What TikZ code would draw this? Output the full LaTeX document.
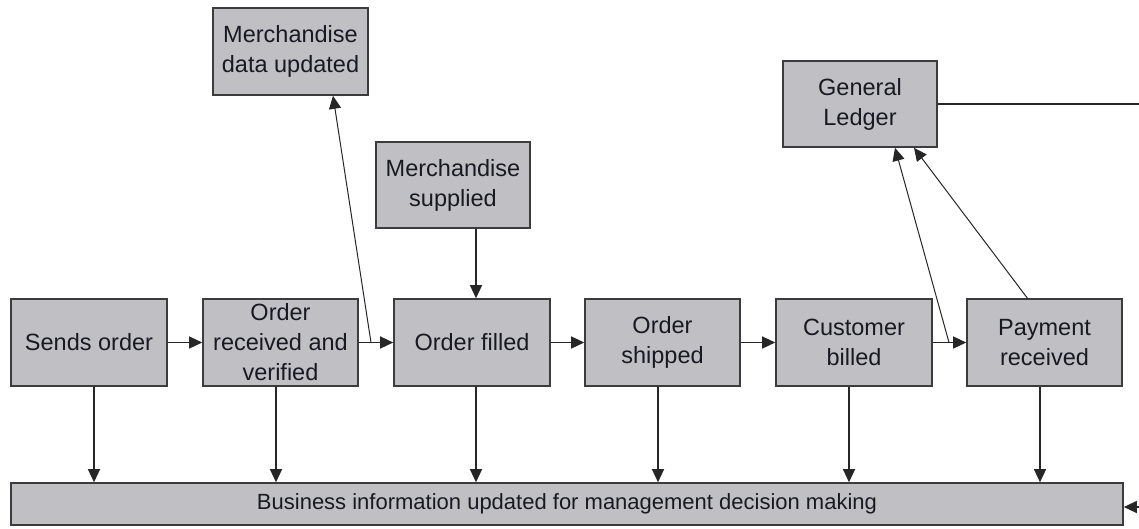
\documentclass[tikz,border=0pt]{standalone}
\usepackage{fontspec}
\setmainfont{Liberation Sans}
\usetikzlibrary{arrows.meta}
\definecolor{boxfill}{RGB}{192,192,196}
\definecolor{boxline}{RGB}{60,60,60}
\definecolor{txt}{RGB}{25,25,35}
\tikzset{
  procbox/.style={draw=boxline, line width=1.6pt, fill=boxfill, align=center,
    minimum width=155pt, minimum height=87pt, inner sep=0pt, text=txt,
    font=\fontsize{23.5pt}{30pt}\selectfont},
  conn/.style={draw=black!85, line width=1.3pt, -{Triangle[length=13pt,width=12pt]}},
  thin/.style={draw=black!85, line width=1pt, -{Triangle[length=13pt,width=12pt]}},
}
\begin{document}
\begin{tikzpicture}[x=1pt,y=-1pt]
\useasboundingbox (0,0) rectangle (1139,528);
% top boxes
\node[procbox] (md) at (290.5,51.5) {Merchandise\\data updated};
\node[procbox, minimum width=154pt, minimum height=86pt] (gl) at (860,104) {General\\Ledger};
\node[procbox, minimum width=154pt, minimum height=86pt] (ms) at (453,185) {Merchandise\\supplied};
% row
\node[procbox, minimum width=156pt] (so) at (89,342.5) {Sends order};
\node[procbox] (orv) at (280.5,342.5) {Order\\received and\\verified};
\node[procbox, minimum width=156pt] (of) at (472,342.5) {Order filled};
\node[procbox] (os) at (662.5,342.5) {Order\\shipped};
\node[procbox, minimum width=156pt] (cb) at (854,342.5) {Customer\\billed};
\node[procbox] (pr) at (1044.5,342.5) {Payment\\received};
% bottom
\node[procbox, minimum width=1112pt, minimum height=42pt, font=\fontsize{22pt}{28pt}\selectfont] (bot) at (567,504)
  {Business information updated for management decision making};
% horizontal flow
\draw[conn] (so.east) -- (orv.west);
\draw[conn] (orv.east) -- (of.west);
\draw[conn] (of.east) -- (os.west);
\draw[conn] (os.east) -- (cb.west);
\draw[conn] (cb.east) -- (pr.west);
\coordinate (msx) at (476,0);
\draw[conn] (msx |- ms.south) -- (msx |- of.north);
% diagonal arrows
\coordinate (d1) at (371,342.5);
\draw[thin] (d1) -- ([xshift=42.5pt]md.south);
\coordinate (d2) at (949,342.5);
\draw[thin] (d2) -- ([xshift=35pt]gl.south);
\coordinate (prt) at (1028,299);
\draw[thin] (prt) -- ([xshift=54pt]gl.south);
% ledger line and right feed
\coordinate (edge) at (1139,104);
\draw[draw=black!85, line width=1.3pt] (gl.east) -- (edge);
\coordinate (feed) at (1139,507);
\draw[conn] (feed) -- (feed -| bot.east);
% downward arrows
\foreach \n/\x in {so/94, orv/276, of/476, os/658, cb/849, pr/1040}{
  \coordinate (t\n) at (\x,0);
  \draw[conn] (t\n |- \n.south) -- (t\n |- bot.north);
}
\end{tikzpicture}
\end{document}
